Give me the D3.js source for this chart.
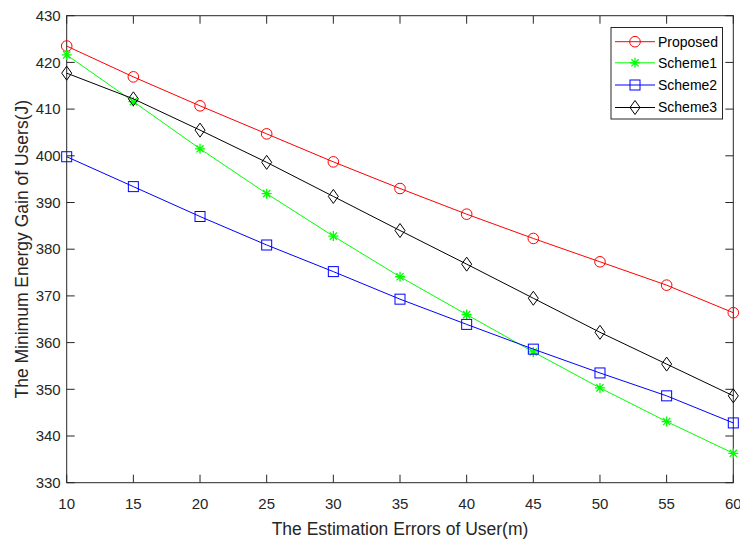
<!DOCTYPE html>
<meta charset="utf-8">
<div id="chart"></div>
<style>
body { margin: 0; background: #fff; font-family: 'Liberation Sans', Arial, sans-serif; }
</style>
<script src="https://d3js.org/d3.v7.min.js"></script>
<script>
var errors = [10, 15, 20, 25, 30, 35, 40, 45, 50, 55, 60];
var proposed = [423.5, 416.9, 410.7, 404.7, 398.7, 393.0, 387.5, 382.3, 377.3, 372.3, 366.4];
var scheme1 = [421.6, 411.6, 401.5, 391.9, 382.8, 374.1, 366.0, 358.0, 350.3, 343.1, 336.3];
var scheme2 = [399.8, 393.4, 387.0, 380.9, 375.2, 369.3, 363.9, 358.6, 353.5, 348.6, 342.8];
var scheme3 = [417.7, 412.2, 405.5, 398.6, 391.3, 384.0, 376.8, 369.5, 362.2, 355.4, 348.6];
var xTicks = [10, 15, 20, 25, 30, 35, 40, 45, 50, 55, 60];
var yTicks = [330, 340, 350, 360, 370, 380, 390, 400, 410, 420, 430];

var series = [
  { name: 'Proposed', values: proposed, color: '#ff0000', marker: 'circle' },
  { name: 'Scheme1', values: scheme1, color: '#00ff00', marker: 'star' },
  { name: 'Scheme2', values: scheme2, color: '#0000ff', marker: 'square' },
  { name: 'Scheme3', values: scheme3, color: '#000000', marker: 'diamond' }
];

var w = 740, h = 540;
var pLeft = 66.7, pRight = 733.3, pTop = 15.7, pBottom = 482.7;

var x = d3.scaleLinear().domain([10, 60]).range([pLeft, pRight]);
var y = d3.scaleLinear().domain([330, 430]).range([pBottom, pTop]);

var svg = d3.select('#chart').append('svg')
  .attr('width', w)
  .attr('height', h);

// box + ticks
var axisColor = '#262626';
svg.append('rect')
  .attr('x', pLeft).attr('y', pTop)
  .attr('width', pRight - pLeft).attr('height', pBottom - pTop)
  .attr('fill', 'none').attr('stroke', axisColor).attr('stroke-width', 1);

var tl = 8;
var tickG = svg.append('g').attr('stroke', axisColor).attr('stroke-width', 1);
xTicks.forEach(function(t) {
  tickG.append('line').attr('x1', x(t)).attr('x2', x(t)).attr('y1', pBottom).attr('y2', pBottom - tl);
  tickG.append('line').attr('x1', x(t)).attr('x2', x(t)).attr('y1', pTop).attr('y2', pTop + tl);
});
yTicks.forEach(function(t) {
  tickG.append('line').attr('x1', pLeft).attr('x2', pLeft + tl).attr('y1', y(t)).attr('y2', y(t));
  tickG.append('line').attr('x1', pRight).attr('x2', pRight - tl).attr('y1', y(t)).attr('y2', y(t));
});

svg.selectAll('.xlab').data(xTicks).enter().append('text')
  .attr('x', function(d) { return x(d); })
  .attr('y', pBottom + 26)
  .attr('text-anchor', 'middle')
  .style('font-size', '15px')
  .style('fill', axisColor)
  .text(function(d) { return d; });

svg.selectAll('.ylab').data(yTicks).enter().append('text')
  .attr('x', pLeft - 6)
  .attr('y', function(d) { return y(d); })
  .attr('dy', '0.35em')
  .attr('text-anchor', 'end')
  .style('font-size', '15px')
  .style('fill', axisColor)
  .text(function(d) { return d; });

svg.append('text')
  .attr('x', (pLeft + pRight) / 2)
  .attr('y', 535)
  .attr('text-anchor', 'middle')
  .style('font-size', '17.5px')
  .style('fill', axisColor)
  .text('The Estimation Errors of User(m)');

svg.append('text')
  .attr('transform', 'translate(28,' + ((pTop + pBottom) / 2) + ') rotate(-90)')
  .attr('text-anchor', 'middle')
  .style('font-size', '17.5px')
  .style('fill', axisColor)
  .text('The Minimum Energy Gain of Users(J)');

function drawMarker(g, type, cx, cy, color) {
  if (type === 'circle') {
    g.append('circle').attr('cx', cx).attr('cy', cy).attr('r', 5.3)
      .attr('fill', 'none').attr('stroke', color);
  } else if (type === 'square') {
    g.append('rect').attr('x', cx - 5).attr('y', cy - 5).attr('width', 10).attr('height', 10)
      .attr('fill', 'none').attr('stroke', color);
  } else if (type === 'diamond') {
    g.append('path').attr('d', 'M' + cx + ',' + (cy - 7) + 'L' + (cx + 5) + ',' + cy + 'L' + cx + ',' + (cy + 7) + 'L' + (cx - 5) + ',' + cy + 'Z')
      .attr('fill', 'none').attr('stroke', color);
  } else if (type === 'star') {
    var r = 5;
    var d = 'M' + (cx - r) + ',' + cy + 'L' + (cx + r) + ',' + cy +
            'M' + cx + ',' + (cy - r) + 'L' + cx + ',' + (cy + r) +
            'M' + (cx - r * 0.72) + ',' + (cy - r * 0.72) + 'L' + (cx + r * 0.72) + ',' + (cy + r * 0.72) +
            'M' + (cx - r * 0.72) + ',' + (cy + r * 0.72) + 'L' + (cx + r * 0.72) + ',' + (cy - r * 0.72);
    g.append('path').attr('d', d).attr('fill', 'none').attr('stroke', color).attr('stroke-width', 1.3);
  }
}

var line = d3.line()
  .x(function(d, i) { return x(errors[i]); })
  .y(function(d) { return y(d); });

series.forEach(function(s) {
  var g = svg.append('g');
  g.append('path').datum(s.values)
    .attr('d', line)
    .attr('fill', 'none')
    .attr('stroke', s.color)
    .attr('stroke-width', 1);
  s.values.forEach(function(v, i) {
    drawMarker(g, s.marker, x(errors[i]), y(v), s.color);
  });
});

// legend
var lg = svg.append('g');
lg.append('rect')
  .attr('x', 611).attr('y', 27.5).attr('width', 111.5).attr('height', 91.5)
  .attr('fill', '#fff').attr('stroke', axisColor).attr('stroke-width', 1);
var legendY = [41.7, 62.8, 85, 107.5];
series.forEach(function(s, i) {
  var ly = legendY[i];
  lg.append('line').attr('x1', 615).attr('x2', 655).attr('y1', ly).attr('y2', ly)
    .attr('stroke', s.color).attr('stroke-width', 1);
  drawMarker(lg, s.marker, 635, ly, s.color);
  lg.append('text').attr('x', 658).attr('y', ly).attr('dy', '0.35em')
    .style('font-size', '14px').style('fill', '#000')
    .text(s.name);
});
</script>
